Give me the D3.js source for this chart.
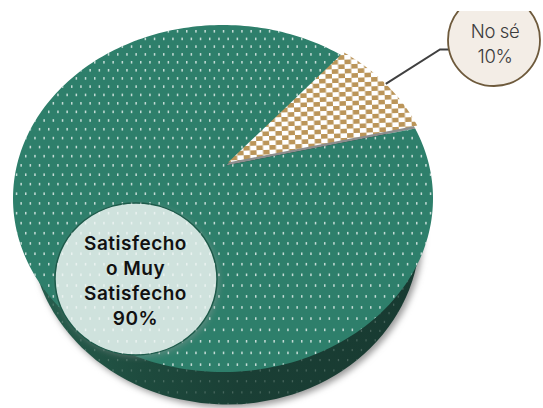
<!DOCTYPE html>
<html><head><meta charset="utf-8">
<script src="https://cdn.jsdelivr.net/npm/d3@7/dist/d3.min.js"></script>
<style>html,body{margin:0;padding:0;background:#fff}svg{display:block}text{font-family:Inter,"Open Sans",sans-serif}</style>
</head><body><div id="chart"></div>
<script>
const categories = ["No sé", "Satisfecho o Muy Satisfecho"];
const values = [10, 90];
const labelLines = [["No sé", "10%"], ["Satisfecho", "o Muy", "Satisfecho", "90%"]];
const colors = {green:"#2e7f6b", side:"#1a3f35", tan:"#bb9559", line:"#404040"};

const W = 543, H = 408;
const svg = d3.select("#chart").append("svg").attr("width", W).attr("height", H);
const defs = svg.append("defs");

// disc (-1..1) -> screen scales for the tilted top face
const xTop = d3.scaleLinear().domain([-1, 1]).range([13, 433]);
const yTop = d3.scaleLinear().domain([-1, 1]).range([372, 25]);
const xBase = d3.scaleLinear().domain([-1, 1]).range([30, 420]);
const yBase = d3.scaleLinear().domain([-1, 1]).range([404.5, 58]);

// perspective: the pie's centre sits behind the centre of the ellipse
const cVec = [0.014, 0.19];
const gam = 1 / Math.sqrt(1 - cVec[0]*cVec[0] - cVec[1]*cVec[1]);
function persp(px, py) {
  const dot = cVec[0]*px + cVec[1]*py, k = gam/(1+gam)*dot, d = 1 + dot;
  return [(cVec[0] + px/gam + k*cVec[0]) / d, (cVec[1] + py/gam + k*cVec[1]) / d];
}
function toScreen(a, r) {
  const p = persp(r*Math.sin(a), r*Math.cos(a));
  return [xTop(p[0]), yTop(p[1])];
}
const pie = d3.pie().sort(null).value(d => d)
  .startAngle(40.4*Math.PI/180).endAngle((40.4+360)*Math.PI/180);
const arcs = pie(values);
const lineGen = d3.line();
function slicePath(s) {
  const n = Math.ceil((s.endAngle - s.startAngle) * 40);
  const pts = d3.range(n + 1).map(i => toScreen(s.startAngle + (s.endAngle - s.startAngle)*i/n, 1));
  return lineGen([toScreen(0, 0), ...pts]) + "Z";
}
function ellipseOf(xs, ys) {
  return {cx: xs(0), cy: ys(0), rx: xs(1) - xs(0), ry: ys(-1) - ys(0)};
}
const base = ellipseOf(xBase, yBase);
const baseRot = `rotate(2.5 ${base.cx} ${base.cy})`;

// defs
const shadowF = defs.append("filter").attr("id","shadow").attr("x","-10%").attr("y","-10%").attr("width","125%").attr("height","125%");
shadowF.append("feGaussianBlur").attr("stdDeviation", 3);
const softF = defs.append("filter").attr("id","soft").attr("x","-5%").attr("y","-5%").attr("width","110%").attr("height","110%");
softF.append("feGaussianBlur").attr("stdDeviation", 0.5);
const chk = defs.append("pattern").attr("id","check").attr("patternUnits","userSpaceOnUse")
  .attr("width",13).attr("height",9.2).attr("x",2).attr("y",1).attr("patternTransform","rotate(-2)");
chk.append("rect").attr("width",13).attr("height",9.2).attr("fill","#fff");
chk.append("rect").attr("x",0).attr("y",0).attr("width",6.5).attr("height",4.6).attr("fill",colors.tan);
chk.append("rect").attr("x",6.5).attr("y",4.6).attr("width",6.5).attr("height",4.6).attr("fill",colors.tan);
const sideGrad = defs.append("linearGradient").attr("id","sideGrad").attr("gradientUnits","userSpaceOnUse")
  .attr("x1",30).attr("x2",420).attr("y1",0).attr("y2",0);
sideGrad.append("stop").attr("offset",0).attr("stop-color","#27604f");
sideGrad.append("stop").attr("offset",0.3).attr("stop-color","#1e4b3e");
sideGrad.append("stop").attr("offset",0.55).attr("stop-color",colors.side);
sideGrad.append("stop").attr("offset",1).attr("stop-color","#183a31");
defs.append("clipPath").attr("id","clipGreen").append("path").attr("d", slicePath(arcs[1]));
const baseClip = defs.append("clipPath").attr("id","clipBase");
baseClip.append("ellipse").attr("cx",base.cx).attr("cy",base.cy).attr("rx",base.rx).attr("ry",base.ry).attr("transform",baseRot);
defs.append("clipPath").attr("id","clipTopLabel").append("rect").attr("x",430).attr("y",11).attr("width",113).attr("height",90);
const lab2 = {cx:136, cy:279, rx:81, ry:76};
defs.append("clipPath").attr("id","clipLab").append("ellipse").attr("cx",lab2.cx).attr("cy",lab2.cy).attr("rx",lab2.rx).attr("ry",lab2.ry);

// dots grid, rows spread out toward the viewer
function rows(y0, y1) { const out = []; let y = y0; while (y < y1) { out.push(y); y += 7.6 + (y - y0)/(y1 - y0)*4.4; } return out; }
function dots(sel, rowsY, color, op, w, h) {
  rowsY.forEach((y, i) => {
    sel.selectAll(null).data(d3.range(0, 61)).enter().append("rect")
      .attr("x", d => 2 + d*9.2 + (i % 2 ? 4.6 : 0)).attr("y", y).attr("width", w).attr("height", h)
      .attr("fill", color).attr("opacity", op);
  });
}
const rowYs = rows(30, 372);

// shadow + side wall
svg.append("ellipse").attr("cx",base.cx+3).attr("cy",base.cy+3).attr("rx",base.rx).attr("ry",base.ry).attr("transform",baseRot)
  .attr("fill","#9a9a9a").attr("filter","url(#shadow)");
svg.append("ellipse").attr("cx",base.cx).attr("cy",base.cy).attr("rx",base.rx).attr("ry",base.ry).attr("transform",baseRot).attr("fill","url(#sideGrad)");
const sideDots = svg.append("g").attr("clip-path","url(#clipBase)").attr("filter","url(#soft)");
dots(sideDots, rows(280, 404), "#a9b8b2", 0.3, 1.3, 2.2);

// top face: sliver under the wedge, green slice, dots, wedge
svg.append("path").attr("d", slicePath(arcs[0])).attr("fill","#8d8d8d");
svg.append("path").attr("d", slicePath(arcs[1])).attr("fill",colors.green);
const greenDots = svg.append("g").attr("clip-path","url(#clipGreen)").attr("filter","url(#soft)");
dots(greenDots, rowYs, "#fff", 0.72, 1.5, 2.6);
const wedgeShift = [2, -3];
svg.append("path").attr("d", slicePath(arcs[0])).attr("fill","url(#check)")
  .attr("transform", `translate(${wedgeShift})`);

// leader line from middle of the wedge's rim to the label
const mid = (arcs[0].startAngle + arcs[0].endAngle) / 2;
const rim = toScreen(mid, 1);
const leaderStart = [rim[0] + wedgeShift[0], rim[1] + wedgeShift[1]];
const no = {cx:494, cy:40, r:46};
svg.append("path").attr("d", lineGen([leaderStart, [no.cx-54, 49.5], [no.cx-no.r+1, 49.5]]))
  .attr("fill","none").attr("stroke",colors.line).attr("stroke-width",2);

// label: No sé
const noG = svg.append("g").attr("clip-path","url(#clipTopLabel)");
noG.append("circle").attr("cx",no.cx).attr("cy",no.cy).attr("r",no.r)
  .attr("fill","#f3ede6").attr("stroke","#6e5a3c").attr("stroke-width",1.8);
svg.selectAll(null).data(labelLines[0]).enter().append("text")
  .attr("x",495).attr("y",(d,i)=>38+i*25).attr("text-anchor","middle")
  .attr("font-size",18.5).attr("font-weight",300).attr("fill","#3c3c3c").attr("letter-spacing",-0.4).text(d=>d);

// label: Satisfecho
svg.append("ellipse").attr("cx",lab2.cx+2).attr("cy",lab2.cy+2).attr("rx",lab2.rx).attr("ry",lab2.ry)
  .attr("fill","#999").attr("opacity",0.45).attr("filter","url(#shadow)");
svg.append("ellipse").attr("cx",lab2.cx).attr("cy",lab2.cy).attr("rx",lab2.rx).attr("ry",lab2.ry)
  .attr("fill","#cfe2dd").attr("stroke","#1d5a4a").attr("stroke-width",1.5);
const labDots = svg.append("g").attr("clip-path","url(#clipLab)").attr("filter","url(#soft)");
dots(labDots, rowYs, "#fff", 0.55, 1.5, 2.6);
svg.selectAll(null).data(labelLines[1]).enter().append("text")
  .attr("x",135.5).attr("y",(d,i)=>250+i*25).attr("text-anchor","middle")
  .attr("font-size",19).attr("font-weight",600).attr("letter-spacing",0.5).attr("fill","#111").text(d=>d);
</script></body></html>
